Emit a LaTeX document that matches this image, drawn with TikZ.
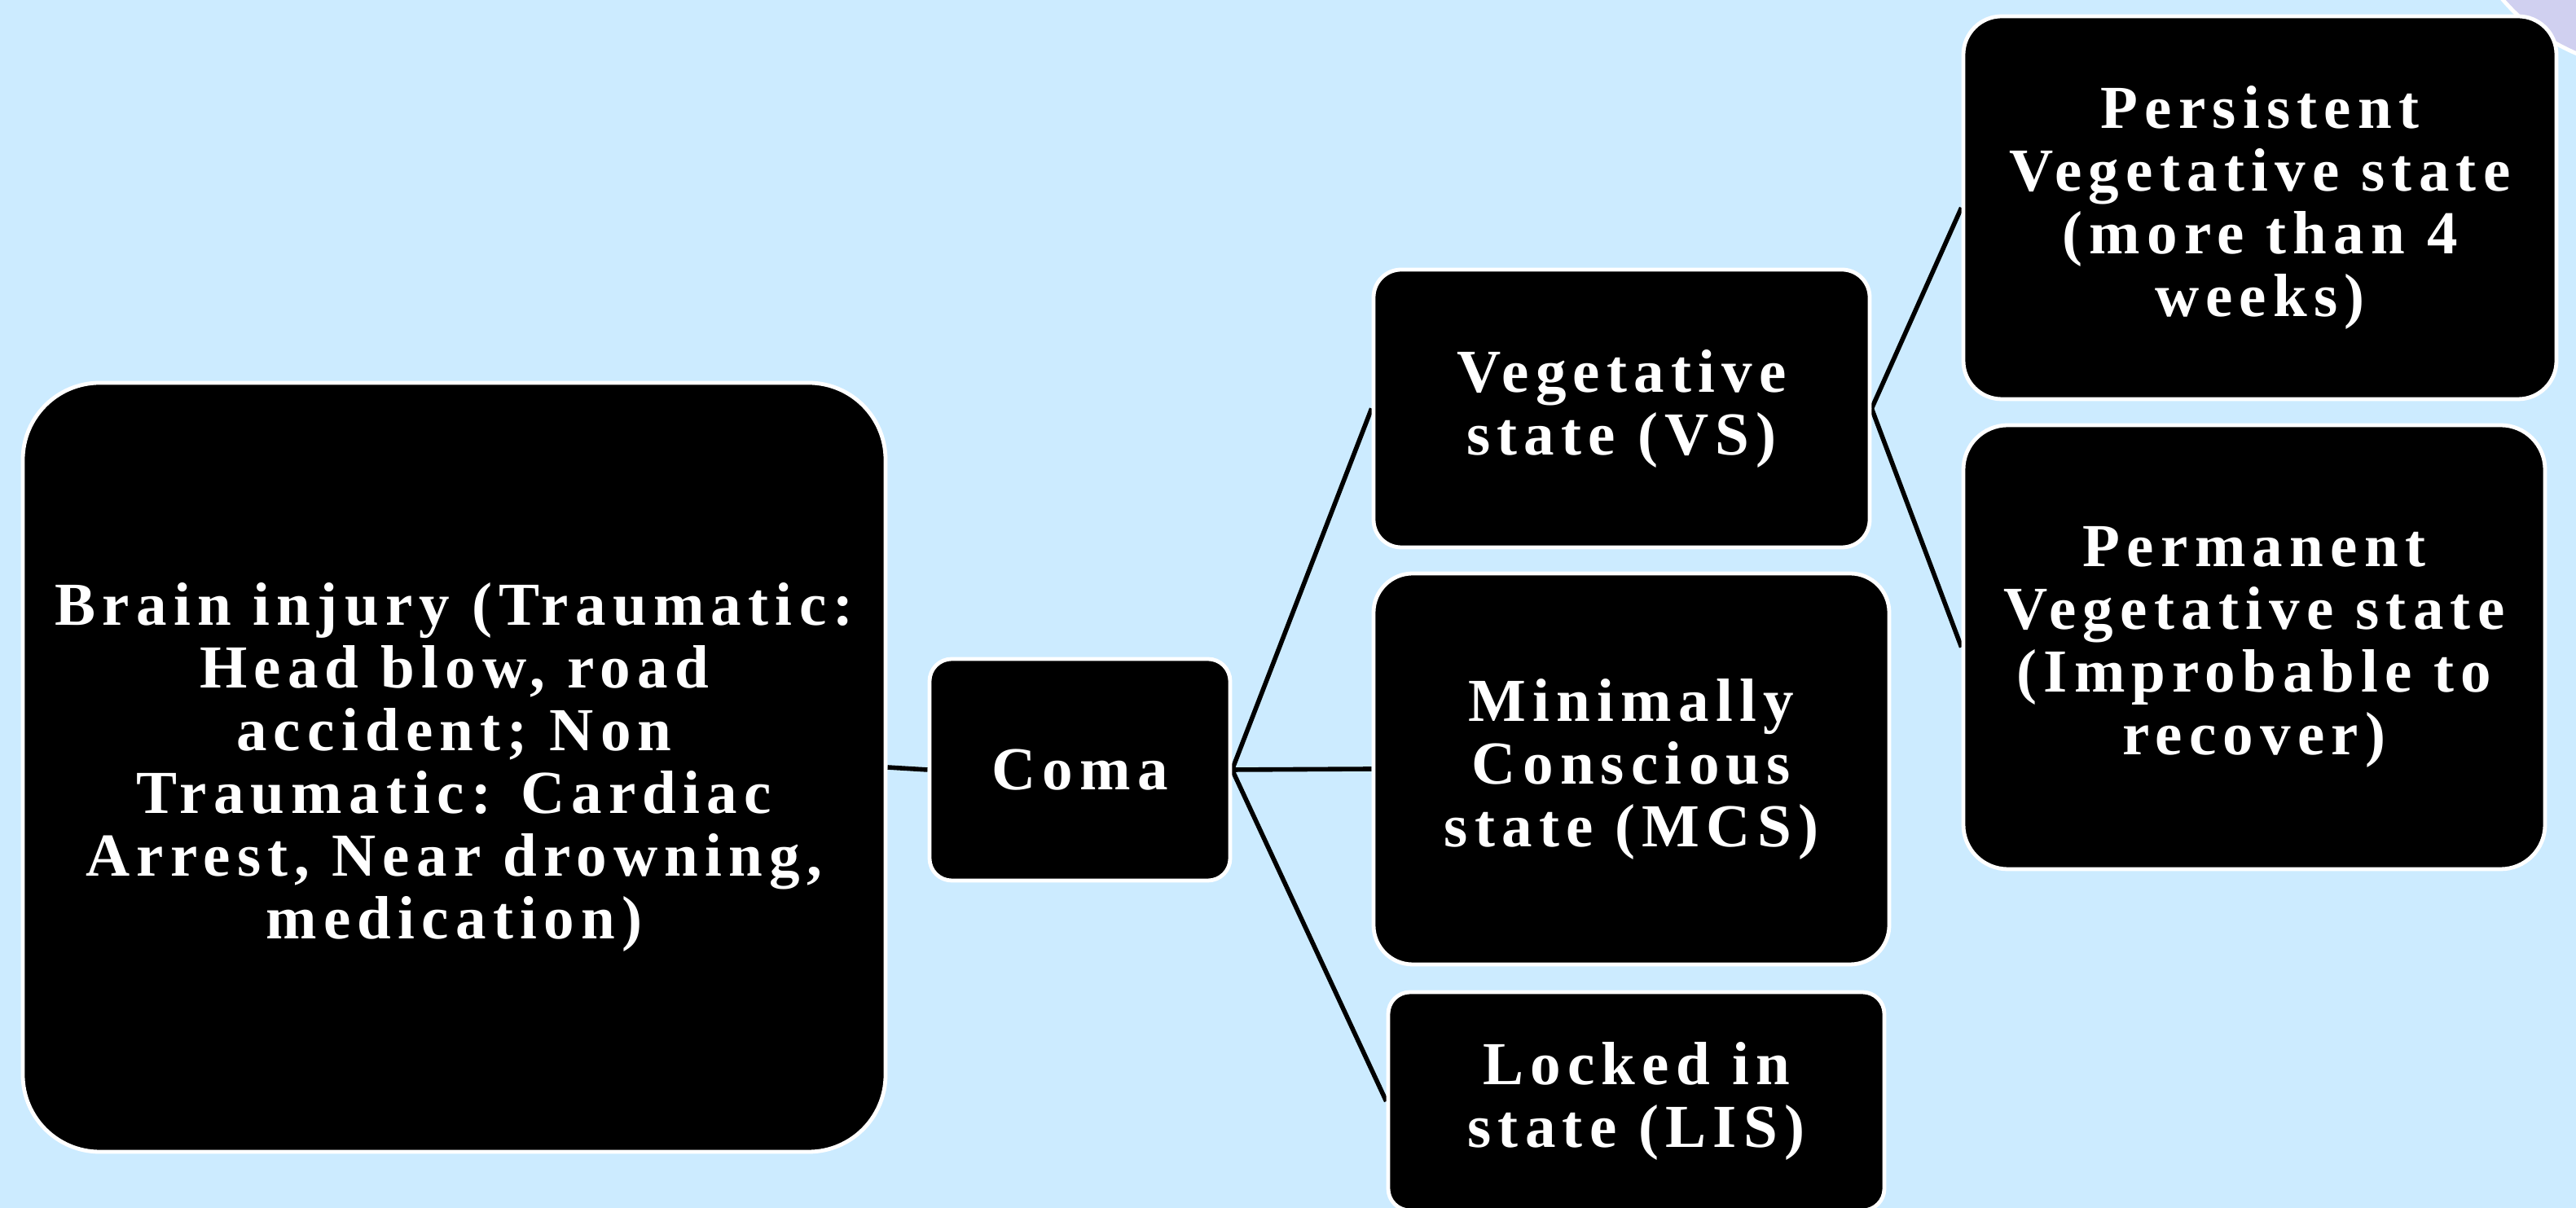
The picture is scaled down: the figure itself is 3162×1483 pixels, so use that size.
\documentclass[tikz,border=0pt]{standalone}
\usepackage{fontspec}
\newfontfamily\tnr{Liberation Serif}[LetterSpace=11]
\usetikzlibrary{backgrounds}
\definecolor{bgblue}{RGB}{204,235,255}
\definecolor{lav}{RGB}{208,208,240}
\begin{document}
\begin{tikzpicture}[x=0.25pt,y=-0.25pt,
  box/.style={draw=white, line width=1.2pt, fill=black, text=white, align=center,
    inner sep=0pt, font=\tnr\bfseries\fontsize{18.75}{19.25}\selectfont},
  link/.style={draw=black, line width=1.4pt}]
\useasboundingbox (0,0) rectangle (3162,1483);
\begin{pgfonlayer}{background}
  \clip (0,0) rectangle (3162,1483);
  \fill[bgblue] (0,0) rectangle (3162,1483);
  \draw[fill=lav, draw=white, line width=1.2pt] (3258,-160) circle[radius=245];
\end{pgfonlayer}
\begin{scope}
\clip (0,0) rectangle (3162,1483);
\node[box, minimum width=264.75pt, minimum height=236pt, rounded corners=23.6pt] (brain) at (557.5,942)
  {Brain injury (Traumatic:\\Head blow, road\\accident; Non\\Traumatic: Cardiac\\Arrest, Near drowning,\\medication)};
\node[box, minimum width=92.25pt, minimum height=68pt, rounded corners=6.8pt] (coma) at (1325.5,945) {Coma};
\node[box, minimum width=152.25pt, minimum height=85.25pt, rounded corners=8.5pt] (vs) at (1990.5,501.5)
  {Vegetative\\state (VS)};
\node[box, minimum width=158.25pt, minimum height=120pt, rounded corners=12pt] (mcs) at (2002.5,944)
  {Minimally\\Conscious\\state (MCS)};
\node[box, minimum width=152.25pt, minimum height=67pt, rounded corners=6.7pt] (lis) at (2008.5,1352)
  {Locked in\\state (LIS)};
\node[box, minimum width=182pt, minimum height=117.5pt, rounded corners=11.75pt] (pers) at (2774,255)
  {Persistent\\Vegetative state\\(more than 4\\weeks)};
\node[box, minimum width=178.5pt, minimum height=136.25pt, rounded corners=13.6pt] (perm) at (2767,794.5)
  {Permanent\\Vegetative state\\(Improbable to\\recover)};
\end{scope}
\begin{pgfonlayer}{background}
  \draw[link] (brain.east) -- (coma.west);
  \draw[link] (coma.east) -- (vs.west);
  \draw[link] (coma.east) -- (mcs.west);
  \draw[link] (coma.east) -- (lis.west);
  \draw[link] (vs.east) -- (pers.west);
  \draw[link] (vs.east) -- (perm.west);
\end{pgfonlayer}
\end{tikzpicture}
\end{document}
